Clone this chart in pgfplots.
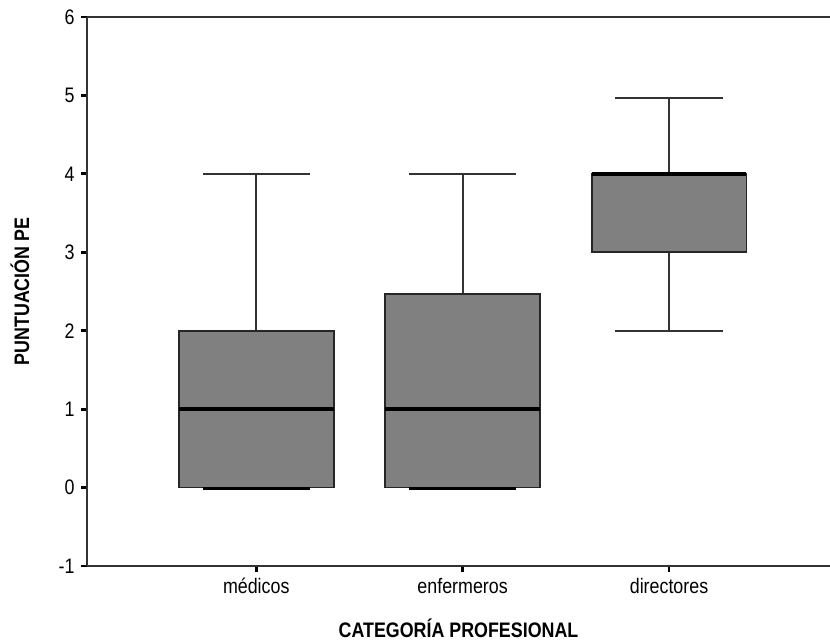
\documentclass[border=0pt]{standalone}
\usepackage{fontspec}
\setmainfont{Liberation Sans}[FakeStretch=0.85]
\usepackage{pgfplots}
\pgfplotsset{compat=1.18}
\usepgfplotslibrary{statistics}
\begin{document}
\begin{tikzpicture}
\begin{axis}[
  scale only axis, width=743pt, height=549pt,
  xmin=0.18, xmax=3.78, ymin=-1, ymax=6,
  axis x line=box, axis y line=left,
  axis line style={-, line width=1.8pt, color=black!80},
  ytick={-1,0,...,6}, xtick={1,2,3},
  xticklabels={médicos,enfermeros,directores},
  tick align=outside, xtick pos=left, ytick pos=left,
  major tick length=6pt,
  every tick/.style={black, line width=2.8pt},
  /pgf/number format/assume math mode=true,
  ticklabel style={font=\fontsize{21}{24}\selectfont},
  yticklabel style={xshift=-3pt},
  xticklabel style={anchor=base, yshift=-22pt},
  xlabel={\textbf{CATEGORÍA PROFESIONAL}},
  ylabel={\textbf{PUNTUACIÓN PE}},
  label style={font=\fontsize{21}{24}\selectfont},
  xlabel style={at={(axis description cs:0.5,-0.113)}, anchor=center},
  ylabel style={at={(axis description cs:-0.0902,0.5)}, anchor=center},
  boxplot/draw direction=y,
  boxplot/box extend=0.75,
  boxplot/whisker extend=0.52,
  boxplot/every box/.style={fill=black!50, draw=black!85, line width=1.8pt},
  boxplot/every whisker/.style={draw=black!80, line width=1.8pt},
  boxplot/every median/.style={draw=black, line width=4pt},
]
\addplot[draw=black!80, boxplot prepared={lower whisker=0, lower quartile=0, median=1, upper quartile=2, upper whisker=4, draw position=1}] coordinates {};
\addplot[draw=black!80, boxplot prepared={lower whisker=0, lower quartile=0, median=1, upper quartile=2.47, upper whisker=4, draw position=2}] coordinates {};
\addplot[draw=black!80, boxplot prepared={lower whisker=2, lower quartile=3, median=4, upper quartile=4, upper whisker=4.97, draw position=3}] coordinates {};
% lower whisker caps at 0 drawn heavy
\addplot[black, line width=3.5pt] coordinates {(0.74,-0.012) (1.26,-0.012)};
\addplot[black, line width=3.5pt] coordinates {(1.74,-0.012) (2.26,-0.012)};
\end{axis}
\pgfresetboundingbox
\path[use as bounding box] ([xshift=-87pt,yshift=-76pt]current axis.south west) rectangle ([yshift=17pt]current axis.north east);
\end{tikzpicture}
\end{document}
